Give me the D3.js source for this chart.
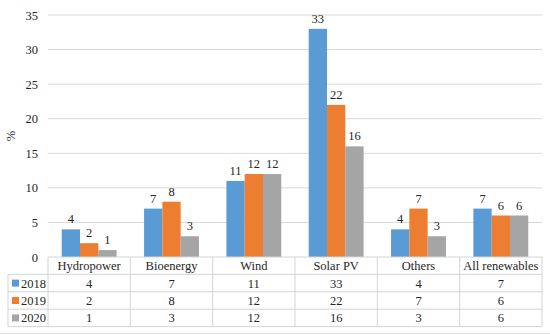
<!DOCTYPE html>
<html>
<head>
<meta charset="utf-8">
<script src="https://cdn.jsdelivr.net/npm/d3@7"></script>
<style>
  body { margin: 0; background: #fff; }
  svg, svg text { font-family: "Liberation Serif", "Times New Roman", "DejaVu Serif", serif !important; }
  svg text { fill: #262626; }
</style>
</head>
<body>
<svg id="chart" width="550" height="334"></svg>
<script>
// chart data
var categories = ["Hydropower", "Bioenergy", "Wind", "Solar PV", "Others", "All renewables"];
var seriesNames = ["2018", "2019", "2020"];
var values2018 = [4, 7, 11, 33, 4, 7];
var values2019 = [2, 8, 12, 22, 7, 6];
var values2020 = [1, 3, 12, 16, 3, 6];
var yTicks = [0, 5, 10, 15, 20, 25, 30, 35];
var colors = ["#5b9bd5", "#ed7d31", "#a5a5a5"];

(function() {
  var allValues = [values2018, values2019, values2020];
  var serif = "'Liberation Serif', 'Times New Roman', serif";
  var fs = 12.5;

  var svg = d3.select("#chart");
  var plotLeft = 48, plotRight = 542, plotTop = 15, plotBottom = 257;
  var rowH = 17.4;

  var x = d3.scaleBand().domain(categories).range([plotLeft, plotRight]);
  var xs = d3.scaleBand().domain(seriesNames).range([0, x.bandwidth()]).paddingOuter(0.75);
  var y = d3.scaleLinear().domain([0, 35]).range([plotBottom, plotTop]);

  // gridlines
  svg.append("g")
    .selectAll("line")
    .data(yTicks.filter(function(d) { return d > 0; }))
    .enter().append("line")
    .attr("x1", plotLeft).attr("x2", plotRight)
    .attr("y1", function(d) { return y(d); })
    .attr("y2", function(d) { return y(d); })
    .attr("stroke", "#d9d9d9").attr("stroke-width", 1);

  // y axis labels
  var yAxis = svg.append("g")
    .attr("transform", "translate(" + plotLeft + ",0)")
    .call(d3.axisLeft(y).tickValues(yTicks).tickSize(0).tickPadding(10));
  yAxis.attr("font-family", serif).attr("font-size", fs);
  yAxis.select(".domain").remove();
  yAxis.selectAll("text").attr("fill", "#333");

  svg.append("text")
    .attr("transform", "translate(15,136) rotate(-90)")
    .attr("text-anchor", "middle")
    .attr("font-size", fs)
    .text("%");

  // bars
  seriesNames.forEach(function(s, si) {
    var g = svg.append("g");
    g.selectAll("rect")
      .data(allValues[si])
      .enter().append("rect")
      .attr("x", function(d, i) { return x(categories[i]) + xs(s); })
      .attr("y", function(d) { return y(d); })
      .attr("width", xs.bandwidth())
      .attr("height", function(d) { return y(0) - y(d); })
      .attr("fill", colors[si]);
    g.selectAll("text")
      .data(allValues[si])
      .enter().append("text")
      .attr("x", function(d, i) { return x(categories[i]) + xs(s) + xs.bandwidth() / 2; })
      .attr("y", function(d) { return y(d) - 6; })
      .attr("text-anchor", "middle")
      .attr("font-size", fs)
      .text(function(d) { return d; });
  });

  // data table
  var table = svg.append("g").attr("font-size", fs);
  var lineColor = "#d4d4d4";
  var tableBottom = plotBottom + rowH * 4;

  table.append("line").attr("x1", plotLeft).attr("x2", plotRight)
    .attr("y1", plotBottom).attr("y2", plotBottom)
    .attr("stroke", lineColor);
  [1, 2, 3, 4].forEach(function(r) {
    table.append("line").attr("x1", 8).attr("x2", plotRight)
      .attr("y1", plotBottom + rowH * r).attr("y2", plotBottom + rowH * r)
      .attr("stroke", lineColor);
  });
  table.append("line").attr("x1", 8).attr("x2", 8)
    .attr("y1", plotBottom + rowH).attr("y2", tableBottom)
    .attr("stroke", lineColor);
  categories.forEach(function(c) {
    table.append("line").attr("x1", x(c)).attr("x2", x(c))
      .attr("y1", plotBottom).attr("y2", tableBottom)
      .attr("stroke", lineColor);
  });
  table.append("line").attr("x1", plotRight).attr("x2", plotRight)
    .attr("y1", plotBottom).attr("y2", tableBottom)
    .attr("stroke", lineColor);

  // header row
  table.selectAll("text.cat")
    .data(categories)
    .enter().append("text")
    .attr("class", "cat")
    .attr("x", function(d) { return x(d) + x.bandwidth() / 2; })
    .attr("y", plotBottom + rowH / 2 + 4.5)
    .attr("text-anchor", "middle")
    .text(function(d) { return d; });

  // series rows
  seriesNames.forEach(function(s, si) {
    var ry = plotBottom + rowH * (si + 1);
    table.append("rect")
      .attr("x", 12).attr("y", ry + rowH / 2 - 3.5)
      .attr("width", 7).attr("height", 7)
      .attr("fill", colors[si]);
    table.append("text")
      .attr("x", 21).attr("y", ry + rowH / 2 + 4.5)
      .text(s);
    table.selectAll("text.v" + si)
      .data(allValues[si])
      .enter().append("text")
      .attr("class", "v" + si)
      .attr("x", function(d, i) { return x(categories[i]) + x.bandwidth() / 2; })
      .attr("y", ry + rowH / 2 + 4.5)
      .attr("text-anchor", "middle")
      .text(function(d) { return d; });
  });

  // faint outer line at the bottom
  svg.append("line").attr("x1", 0).attr("x2", 550).attr("y1", 333.5).attr("y2", 333.5)
    .attr("stroke", "#e6e6e6");
})();
</script>
</body>
</html>
